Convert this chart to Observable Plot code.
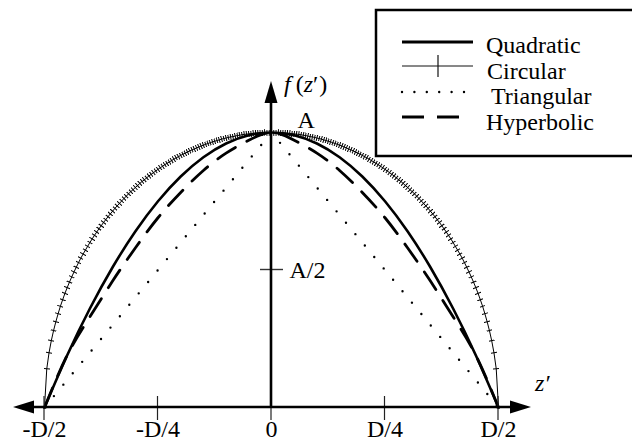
<!DOCTYPE html>
<html>
<head>
<meta charset="utf-8">
<script src="https://cdn.jsdelivr.net/npm/d3@7"></script>
<script src="https://cdn.jsdelivr.net/npm/@observablehq/plot@0.6"></script>
<style>
  body { margin: 0; background: #fff; }
  #chart svg { font-family: "Liberation Serif", "Times New Roman", serif; }
</style>
</head>
<body>
<div id="chart"></div>
<script>
// Aperture profiles f(z') over -D/2 ... D/2, in units of D (position) and A (height)
const zCoarse = [-0.5, -0.45, -0.4, -0.35, -0.3, -0.25, -0.2, -0.15, -0.1, -0.05, 0,
                 0.05, 0.1, 0.15, 0.2, 0.25, 0.3, 0.35, 0.4, 0.45, 0.5];

const quadratic = [0, 0.19, 0.36, 0.51, 0.64, 0.75, 0.84, 0.91, 0.96, 0.99, 1,
                   0.99, 0.96, 0.91, 0.84, 0.75, 0.64, 0.51, 0.36, 0.19, 0];

const triangular = [0, 0.1, 0.2, 0.3, 0.4, 0.5, 0.6, 0.7, 0.8, 0.9, 1,
                    0.9, 0.8, 0.7, 0.6, 0.5, 0.4, 0.3, 0.2, 0.1, 0];

const hyperbolic = [0, 0.19, 0.33, 0.46, 0.58, 0.69, 0.782, 0.862, 0.925, 0.972, 1,
                    0.972, 0.925, 0.862, 0.782, 0.69, 0.58, 0.46, 0.33, 0.19, 0];

// Circular profile, sampled every D/200 (each sample carries a tick marker)
const circular = [
  0, 0.141, 0.199, 0.243, 0.280, 0.312, 0.341, 0.368, 0.392, 0.415,
  0.436, 0.456, 0.475, 0.493, 0.510, 0.527, 0.543, 0.558, 0.572, 0.586,
  0.600, 0.613, 0.626, 0.638, 0.650, 0.661, 0.673, 0.683, 0.694, 0.704,
  0.714, 0.724, 0.733, 0.742, 0.751, 0.760, 0.768, 0.777, 0.785, 0.792,
  0.800, 0.807, 0.815, 0.822, 0.828, 0.835, 0.842, 0.848, 0.854, 0.860,
  0.866, 0.872, 0.877, 0.883, 0.888, 0.893, 0.898, 0.903, 0.908, 0.912,
  0.917, 0.921, 0.925, 0.929, 0.933, 0.937, 0.940, 0.944, 0.947, 0.951,
  0.954, 0.957, 0.960, 0.963, 0.966, 0.968, 0.971, 0.973, 0.976, 0.978,
  0.980, 0.982, 0.984, 0.985, 0.987, 0.989, 0.990, 0.992, 0.993, 0.994,
  0.995, 0.996, 0.997, 0.998, 0.998, 0.999, 0.999, 1.000, 1.000, 1.000,
  1.000,
  1.000, 1.000, 1.000, 0.999, 0.999, 0.998, 0.998, 0.997, 0.996, 0.995,
  0.994, 0.993, 0.992, 0.990, 0.989, 0.987, 0.985, 0.984, 0.982, 0.980,
  0.978, 0.976, 0.973, 0.971, 0.968, 0.966, 0.963, 0.960, 0.957, 0.954,
  0.951, 0.947, 0.944, 0.940, 0.937, 0.933, 0.929, 0.925, 0.921, 0.917,
  0.912, 0.908, 0.903, 0.898, 0.893, 0.888, 0.883, 0.877, 0.872, 0.866,
  0.860, 0.854, 0.848, 0.842, 0.835, 0.828, 0.822, 0.815, 0.807, 0.800,
  0.792, 0.785, 0.777, 0.768, 0.760, 0.751, 0.742, 0.733, 0.724, 0.714,
  0.704, 0.694, 0.683, 0.673, 0.661, 0.650, 0.638, 0.626, 0.613, 0.600,
  0.586, 0.572, 0.558, 0.543, 0.527, 0.510, 0.493, 0.475, 0.456, 0.436,
  0.415, 0.392, 0.368, 0.341, 0.312, 0.280, 0.243, 0.199, 0.141, 0
];

const xTickValues = [-0.5, -0.25, 0, 0.25, 0.5];
const xTickLabels = ["-D/2", "-D/4", "0", "D/4", "D/2"];
const yTickValues = [0.5];
const yTickLabels = ["A/2"];

const seriesNames = ["Quadratic", "Circular", "Triangular", "Hyperbolic"];

// tables for the marks
const coarse = (values) => values.map((f, i) => ({z: zCoarse[i], f}));
const circleData = circular.map((f, i) => ({z: -0.5 + i / (circular.length - 1), f}));
const xTicks = xTickValues.map((v, i) => ({v, label: xTickLabels[i]}));
const yTicks = yTickValues.map((v, i) => ({v, label: yTickLabels[i]}));

const serif = "Liberation Serif, Times New Roman, serif";

// arrowed axes with cross ticks, drawn through the plot's scales
function axes(index, scales) {
  const x = scales.x, y = scales.y;
  const g = d3.create("svg:g").attr("text-anchor", "start");
  const x0 = x(0), y0 = y(0);
  const left = x(-0.5) - 31, right = x(0.5) + 33, top = y(1) - 51;
  const ink = "#000";
  // tick marks on the z' axis
  for (const v of xTickValues) {
    g.append("line").attr("x1", x(v)).attr("x2", x(v))
      .attr("y1", y0 - 11).attr("y2", y0 + 13)
      .attr("stroke", "#222").attr("stroke-width", 1.2);
  }
  // tick marks on the f axis
  for (const v of yTickValues) {
    g.append("line").attr("x1", x0 - 11).attr("x2", x0 + 12)
      .attr("y1", y(v)).attr("y2", y(v))
      .attr("stroke", "#333").attr("stroke-width", 1.4);
  }
  // horizontal axis
  g.append("line").attr("x1", left + 18).attr("x2", right - 18)
    .attr("y1", y0).attr("y2", y0).attr("stroke", ink).attr("stroke-width", 2.6);
  g.append("path").attr("fill", ink)
    .attr("d", `M${left},${y0}L${left + 21},${y0 - 6.5}L${left + 21},${y0 + 6.5}Z`);
  g.append("path").attr("fill", ink)
    .attr("d", `M${right},${y0}L${right - 21},${y0 - 6.5}L${right - 21},${y0 + 6.5}Z`);
  // vertical axis
  g.append("line").attr("x1", x0).attr("x2", x0)
    .attr("y1", y0).attr("y2", top + 18).attr("stroke", ink).attr("stroke-width", 2.6);
  g.append("path").attr("fill", ink)
    .attr("d", `M${x0},${top}L${x0 - 6.5},${top + 22}L${x0 + 6.5},${top + 22}Z`);
  // axis names
  const fz = g.append("text").attr("x", x0 + 13).attr("y", y(1) - 40)
    .attr("font-size", 24).attr("font-family", serif).attr("fill", ink);
  fz.append("tspan").attr("font-style", "italic").text("f");
  fz.append("tspan").attr("dx", 5).text("(");
  fz.append("tspan").attr("font-style", "italic").text("z");
  fz.append("tspan").text("′");
  fz.append("tspan").attr("dx", 1).text(")");
  g.append("text").attr("x", right + 4).attr("y", y0 - 16)
    .attr("font-size", 24).attr("font-family", serif).attr("font-style", "italic")
    .attr("fill", ink).text("z′");
  return g.node();
}

const chart = Plot.plot({
  width: 632,
  height: 443,
  marginLeft: 44,
  marginRight: 134,
  marginTop: 132,
  marginBottom: 36,
  x: {domain: [-0.5, 0.5], axis: null},
  y: {domain: [0, 1], axis: null},
  marks: [
    Plot.line(circleData, {x: "z", y: "f", stroke: "#000", strokeWidth: 1, marker: "tick"}),
    Plot.line(coarse(triangular), {x: "z", y: "f", stroke: "#000", strokeWidth: 2.4,
      strokeDasharray: "0,14.8", strokeLinecap: "round"}),
    Plot.line(coarse(hyperbolic), {x: "z", y: "f", stroke: "#000", strokeWidth: 2.8,
      strokeDasharray: "21,13", curve: "natural"}),
    Plot.line(coarse(quadratic), {x: "z", y: "f", stroke: "#000", strokeWidth: 2.6, curve: "natural"}),
    axes,
    Plot.text(xTicks, {x: "v", y: 0, text: "label", dy: 22, fontSize: 24, fontFamily: serif, fill: "#000"}),
    Plot.text(yTicks, {x: 0, y: "v", text: "label", dx: 18, textAnchor: "start", fontSize: 24, fontFamily: serif, fill: "#000"}),
    Plot.text(["A"], {x: 0, y: 1, text: d => d, dx: 26, dy: -12, textAnchor: "start", fontSize: 24, fontFamily: serif, fill: "#000"})
  ]
});

document.getElementById("chart").append(chart);

// legend box in the upper right corner
const svg = d3.select(chart);
const lg = svg.append("g").attr("font-family", serif).attr("font-size", 24)
  .attr("text-anchor", "start");
lg.append("rect").attr("x", 376).attr("y", 10).attr("width", 270).attr("height", 146)
  .attr("fill", "#fff").attr("stroke", "#000").attr("stroke-width", 2.5);
const rowY = [42, 66, 92, 117];
const textX = [486, 487, 491, 486];
const textY = [53, 79, 104, 130];
// Quadratic
lg.append("line").attr("x1", 402).attr("x2", 473).attr("y1", rowY[0]).attr("y2", rowY[0])
  .attr("stroke", "#000").attr("stroke-width", 3);
// Circular
lg.append("line").attr("x1", 402).attr("x2", 473).attr("y1", rowY[1]).attr("y2", rowY[1])
  .attr("stroke", "#111").attr("stroke-width", 1);
lg.append("line").attr("x1", 438).attr("x2", 438).attr("y1", rowY[1] - 11).attr("y2", rowY[1] + 11)
  .attr("stroke", "#111").attr("stroke-width", 1.2);
// Triangular
lg.append("line").attr("x1", 402).attr("x2", 465).attr("y1", rowY[2]).attr("y2", rowY[2])
  .attr("stroke", "#000").attr("stroke-width", 2.4).attr("stroke-dasharray", "0,12.4")
  .attr("stroke-linecap", "round");
// Hyperbolic
lg.append("line").attr("x1", 402).attr("x2", 459).attr("y1", rowY[3]).attr("y2", rowY[3])
  .attr("stroke", "#000").attr("stroke-width", 3).attr("stroke-dasharray", "22,13");
seriesNames.forEach((name, i) => {
  lg.append("text").attr("x", textX[i]).attr("y", textY[i]).attr("fill", "#000").text(name);
});
</script>
</body>
</html>
